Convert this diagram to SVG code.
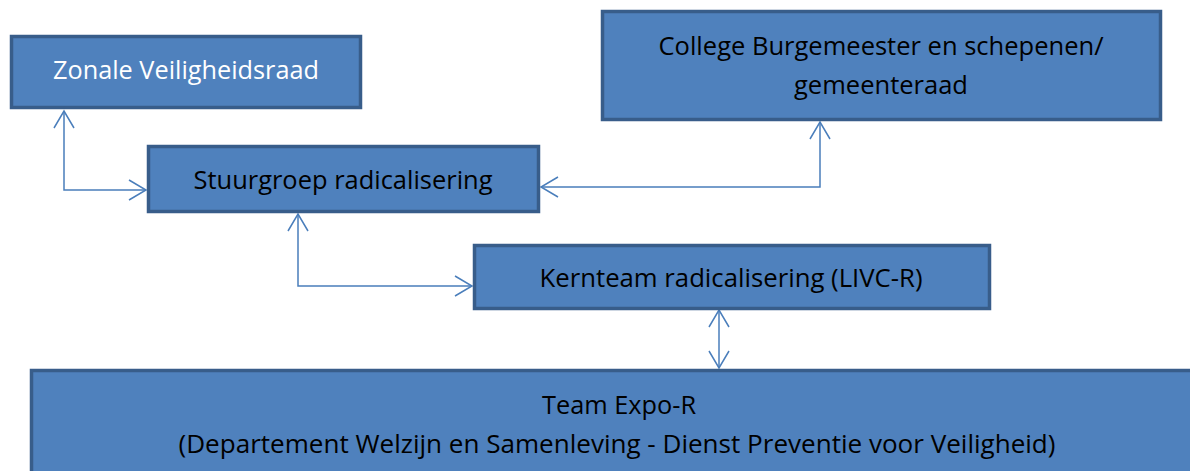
<svg xmlns="http://www.w3.org/2000/svg" width="1190" height="471" viewBox="0 0 1190 471">
<style>
.box{fill:#4f81bd;stroke:#385d8a;stroke-width:3.5}
.t{font-family:"Open Sans","Liberation Sans",sans-serif;font-size:25px;fill:#000;text-anchor:middle}
.w{fill:#fff}
.c{fill:none;stroke:#4a7ebb;stroke-width:1.5}
</style>
<defs>
<marker id="ah" markerUnits="userSpaceOnUse" markerWidth="20" markerHeight="22" viewBox="0 0 20 22" refX="18" refY="11" orient="auto-start-reverse">
<path d="M1,1 L18,11 L1,21" fill="none" stroke="#4a7ebb" stroke-width="1.5"/>
</marker>
</defs>
<rect width="1190" height="471" fill="#fff"/>
<g id="connectors">
<path class="c" d="M64,111 V190 H146" marker-start="url(#ah)" marker-end="url(#ah)"/>
<path class="c" d="M820,122 V187 H541" marker-start="url(#ah)" marker-end="url(#ah)"/>
<path class="c" d="M298,214 V286 H472" marker-start="url(#ah)" marker-end="url(#ah)"/>
<path class="c" d="M719,310 V368" marker-start="url(#ah)" marker-end="url(#ah)"/>
</g>
<g id="zonale">
<rect class="box" x="11.5" y="36.5" width="349" height="71"/>
<text class="t w" x="186" y="79" textLength="266" lengthAdjust="spacingAndGlyphs">Zonale Veiligheidsraad</text>
</g>
<g id="college">
<rect class="box" x="602.5" y="11.5" width="558" height="108"/>
<text class="t" x="881" y="55" textLength="445" lengthAdjust="spacingAndGlyphs">College Burgemeester en schepenen/</text>
<text class="t" x="881" y="94" textLength="174" lengthAdjust="spacingAndGlyphs">gemeenteraad</text>
</g>
<g id="stuurgroep">
<rect class="box" x="148.5" y="146.5" width="390" height="65"/>
<text class="t" x="343" y="189" textLength="299" lengthAdjust="spacingAndGlyphs">Stuurgroep radicalisering</text>
</g>
<g id="kernteam">
<rect class="box" x="474.5" y="245.5" width="515" height="63"/>
<text class="t" x="731" y="287" textLength="383" lengthAdjust="spacingAndGlyphs">Kernteam radicalisering (LIVC-R)</text>
</g>
<g id="team">
<rect class="box" x="31.5" y="370.5" width="1170" height="120"/>
<text class="t" x="619" y="414" textLength="154" lengthAdjust="spacingAndGlyphs">Team Expo-R</text>
<text class="t" x="617" y="453" textLength="877" lengthAdjust="spacingAndGlyphs">(Departement Welzijn en Samenleving - Dienst Preventie voor Veiligheid)</text>
</g>
</svg>
